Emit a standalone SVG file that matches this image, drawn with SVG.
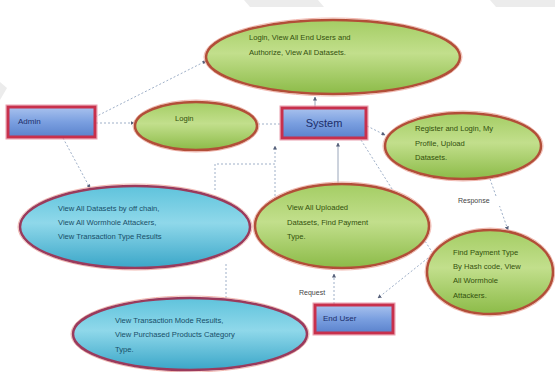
<svg xmlns="http://www.w3.org/2000/svg" width="555" height="372" viewBox="0 0 555 372">
<defs>
<linearGradient id="gGreen" x1="0" y1="0" x2="0" y2="1">
<stop offset="0" stop-color="#a4cd64"/>
<stop offset="0.45" stop-color="#c2df8c"/>
<stop offset="1" stop-color="#8cbb48"/>
</linearGradient>
<linearGradient id="gBlue" x1="0" y1="0" x2="0" y2="1">
<stop offset="0" stop-color="#5fc3dc"/>
<stop offset="0.45" stop-color="#8fd8ea"/>
<stop offset="1" stop-color="#3aa6c8"/>
</linearGradient>
<linearGradient id="gRect" x1="0" y1="0" x2="0" y2="1">
<stop offset="0" stop-color="#a9c2ee"/>
<stop offset="0.5" stop-color="#7a9fe0"/>
<stop offset="1" stop-color="#5a82cc"/>
</linearGradient>
<marker id="arr" markerWidth="4" markerHeight="4" refX="3.5" refY="2" orient="auto" markerUnits="userSpaceOnUse">
<path d="M0,0 L4,2 L0,4 Z" fill="#56607a"/>
</marker>
<style>
.ge{fill:url(#gGreen);stroke:#b24e38;stroke-width:2.5}
.be{fill:url(#gBlue);stroke:#9a3a5c;stroke-width:2.5}
.halo{fill:none;stroke:#f2b8b0;stroke-width:1}
.rc{fill:url(#gRect);stroke:#c8304c;stroke-width:3}
.rh{fill:none;stroke:#eaa0b0;stroke-width:1}
.gt{font-family:"Liberation Sans",Arial,sans-serif;font-size:7.6px;fill:#32500c}
.bt{font-family:"Liberation Sans",Arial,sans-serif;font-size:7.6px;fill:#184e68}
.rt{font-family:"Liberation Sans",Arial,sans-serif;font-size:8px;fill:#1c2e6a}
.lb{font-family:"Liberation Sans",Arial,sans-serif;font-size:7px;fill:#444}
.dl{fill:none;stroke:#9fb0c8;stroke-width:1;stroke-dasharray:2,2}
.sl{fill:none;stroke:#8090a8;stroke-width:0.8}
.wm{fill:#ececec}
</style>
</defs>
<rect width="555" height="372" fill="#ffffff"/>
<polygon class="wm" points="244,0 318,0 324,7 250,7"/>
<polygon class="wm" points="490,0 555,0 555,7 496,7"/>
<polygon class="wm" points="0,82 7,88 0,100"/>

<g id="connectors">
<line class="dl" x1="95" y1="117" x2="206" y2="61" marker-end="url(#arr)"/>
<line class="dl" x1="96" y1="123" x2="134" y2="123" marker-end="url(#arr)"/>
<line class="dl" x1="258" y1="124" x2="282" y2="124"/>
<line class="sl" x1="315" y1="107" x2="315" y2="97" marker-end="url(#arr)"/>
<line class="dl" x1="367" y1="126" x2="385" y2="135" marker-end="url(#arr)"/>
<line class="dl" x1="63" y1="138" x2="90" y2="188" marker-end="url(#arr)"/>
<polyline class="dl" points="215,190 215,164 275,164 275,146" marker-end="url(#arr)"/>
<line class="dl" x1="275" y1="200" x2="275" y2="164"/>
<line class="sl" x1="338" y1="184" x2="338" y2="143" marker-end="url(#arr)"/>
<line class="dl" x1="361" y1="140" x2="432" y2="252"/>
<line class="dl" x1="490" y1="179" x2="508" y2="230" marker-end="url(#arr)"/>
<line class="dl" x1="428" y1="258" x2="378" y2="298" marker-end="url(#arr)"/>
<line class="dl" x1="334" y1="304" x2="334" y2="274" marker-end="url(#arr)"/>
<line class="dl" x1="226" y1="298" x2="226" y2="262"/>
<rect x="456" y="196" width="44" height="10" fill="#ffffff"/>
<text class="lb" x="458" y="203">Response</text>
<text class="lb" x="299" y="295">Request</text>
</g>

<g id="n-top">
<ellipse class="halo" cx="333" cy="57" rx="129" ry="39"/>
<ellipse class="ge" cx="333" cy="57" rx="127" ry="37"/>
<text class="gt" x="249" y="40">Login, View All End Users and</text>
<text class="gt" x="249" y="55">Authorize, View All Datasets.</text>
</g>

<g id="n-admin">
<rect class="rh" x="6" y="105" width="91" height="34"/>
<rect class="rc" x="8" y="107" width="87" height="30"/>
<text class="rt" x="18" y="124">Admin</text>
</g>

<g id="n-login">
<ellipse class="halo" cx="196" cy="126" rx="63" ry="26"/>
<ellipse class="ge" cx="196" cy="126" rx="61" ry="24"/>
<text class="gt" x="175" y="121">Login</text>
</g>

<g id="n-system">
<rect class="rh" x="280" y="106" width="88" height="34"/>
<rect class="rc" x="282" y="108" width="84" height="30"/>
<text class="rt" x="324" y="127" text-anchor="middle" style="font-size:11px">System</text>
</g>

<g id="n-register">
<ellipse class="halo" cx="463" cy="146" rx="80" ry="35"/>
<ellipse class="ge" cx="463" cy="146" rx="78" ry="33"/>
<text class="gt" x="415" y="131">Register and Login, My</text>
<text class="gt" x="415" y="146">Profile, Upload</text>
<text class="gt" x="415" y="160">Datasets.</text>
</g>

<g id="n-blue1">
<ellipse class="halo" cx="135" cy="227" rx="117" ry="43"/>
<ellipse class="be" cx="135" cy="227" rx="115" ry="41"/>
<text class="bt" x="58" y="211">View All Datasets by off chain,</text>
<text class="bt" x="58" y="225">View All Wormhole Attackers,</text>
<text class="bt" x="58" y="239">View Transaction Type Results</text>
</g>

<g id="n-uploaded">
<ellipse class="halo" cx="342" cy="226" rx="89" ry="44"/>
<ellipse class="ge" cx="342" cy="226" rx="87" ry="42"/>
<text class="gt" x="287" y="210">View All Uploaded</text>
<text class="gt" x="287" y="225">Datasets, Find Payment</text>
<text class="gt" x="287" y="239">Type.</text>
</g>

<g id="n-findpay">
<ellipse class="halo" cx="490" cy="272" rx="65" ry="44"/>
<ellipse class="ge" cx="490" cy="272" rx="63" ry="42"/>
<text class="gt" x="453" y="255">Find Payment Type</text>
<text class="gt" x="453" y="269">By Hash code, View</text>
<text class="gt" x="453" y="283">All Wormhole</text>
<text class="gt" x="453" y="298">Attackers.</text>
</g>

<g id="n-enduser">
<rect class="rh" x="313" y="303" width="82" height="32"/>
<rect class="rc" x="315" y="305" width="78" height="28"/>
<text class="rt" x="323" y="321">End User</text>
</g>

<g id="n-blue2">
<ellipse class="halo" cx="190" cy="334" rx="119" ry="38"/>
<ellipse class="be" cx="190" cy="334" rx="117" ry="36"/>
<text class="bt" x="115" y="323">View Transaction Mode Results,</text>
<text class="bt" x="115" y="337">View Purchased Products Category</text>
<text class="bt" x="115" y="352">Type.</text>
</g>
</svg>
